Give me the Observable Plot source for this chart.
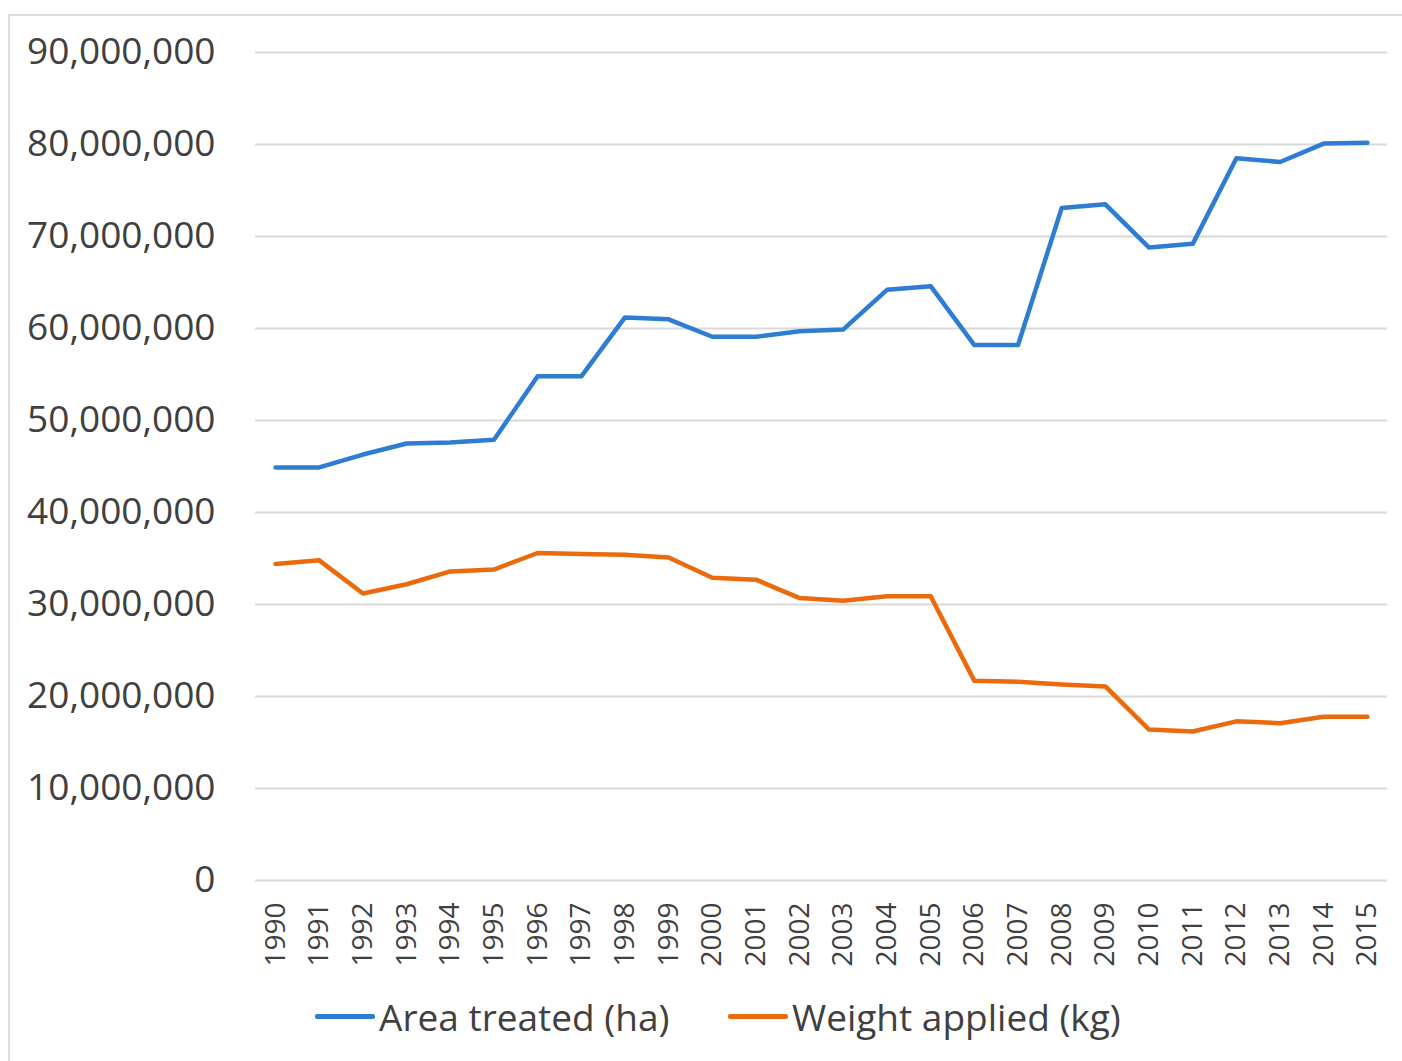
<!DOCTYPE html>
<html>
<head>
<meta charset="utf-8">
<script src="https://cdn.jsdelivr.net/npm/d3@7"></script>
<script src="https://cdn.jsdelivr.net/npm/@observablehq/plot@0.6"></script>
<style>
  html, body { margin: 0; padding: 0; background: #fff; }
  body { width: 1402px; height: 1061px; position: relative; overflow: hidden; font-family: "Open Sans", sans-serif; }
  #frame { position: absolute; left: 8px; top: 14px; width: 1400px; height: 1060px; border-left: 2px solid #dcdcdc; border-top: 2px solid #dcdcdc; }
  #chart { position: absolute; left: 0; top: 0; }
  .leg { position: absolute; top: 991px; display: flex; align-items: center; font-size: 37px; color: #404040; white-space: nowrap; }
  .sw { display: inline-block; width: 60px; height: 5px; margin-right: 4px; border-radius: 2px; }
</style>
</head>
<body>
<div id="frame"></div>
<div id="chart"></div>
<div class="leg" style="left:315px"><span class="sw" id="sw0"></span><span id="lab0"></span></div>
<div class="leg" style="left:728px"><span class="sw" id="sw1"></span><span id="lab1"></span></div>
<script>
const years = [1990,1991,1992,1993,1994,1995,1996,1997,1998,1999,2000,2001,2002,2003,2004,2005,2006,2007,2008,2009,2010,2011,2012,2013,2014,2015];
const areaTreated = [44.9,44.9,46.3,47.5,47.6,47.9,54.8,54.8,61.2,61.0,59.1,59.1,59.7,59.9,64.2,64.6,58.2,58.2,73.1,73.5,68.8,69.2,78.5,78.1,80.1,80.2].map(v => v * 1e6);
const weightApplied = [34.4,34.8,31.2,32.2,33.6,33.8,35.6,35.5,35.4,35.1,32.9,32.7,30.7,30.4,30.9,30.9,21.7,21.6,21.3,21.1,16.4,16.2,17.3,17.1,17.8,17.8].map(v => v * 1e6);
const seriesNames = ["Area treated (ha)", "Weight applied (kg)"];
const seriesColors = ["#2e7dd2", "#ea6a0c"];
const yTicks = [0,10e6,20e6,30e6,40e6,50e6,60e6,70e6,80e6,90e6];

const rows = [];
years.forEach((y, i) => {
  rows.push({year: y, value: areaTreated[i], series: seriesNames[0]});
  rows.push({year: y, value: weightApplied[i], series: seriesNames[1]});
});

const chart = Plot.plot({
  width: 1402,
  height: 990,
  marginLeft: 255,
  marginRight: 15,
  marginTop: 52,
  marginBottom: 110,
  style: { fontFamily: "Open Sans, sans-serif", color: "#404040", background: "transparent" },
  x: { type: "point", domain: years, padding: 0.46, round: false },
  y: { domain: [0, 90e6] },
  color: { domain: seriesNames, range: seriesColors },
  marks: [
    Plot.ruleY(yTicks, { stroke: "#d9d9d9", strokeWidth: 2 }),
    Plot.axisY({ ticks: yTicks, tickSize: 0, tickPadding: 40, tickFormat: d3.format(","), fontSize: 37, fill: "#404040", label: null }),
    Plot.axisX({ tickSize: 0, tickRotate: -90, tickPadding: 22, fontSize: 28, fill: "#404040", tickFormat: d => String(d), label: null }),
    Plot.line(rows, { x: "year", y: "value", z: "series", stroke: "series", strokeWidth: 4.5, strokeLinejoin: "round", strokeLinecap: "round" })
  ]
});
document.getElementById("chart").appendChild(chart);

seriesNames.forEach((n, i) => {
  document.getElementById("sw" + i).style.background = seriesColors[i];
  document.getElementById("lab" + i).textContent = n;
});
</script>
</body>
</html>
